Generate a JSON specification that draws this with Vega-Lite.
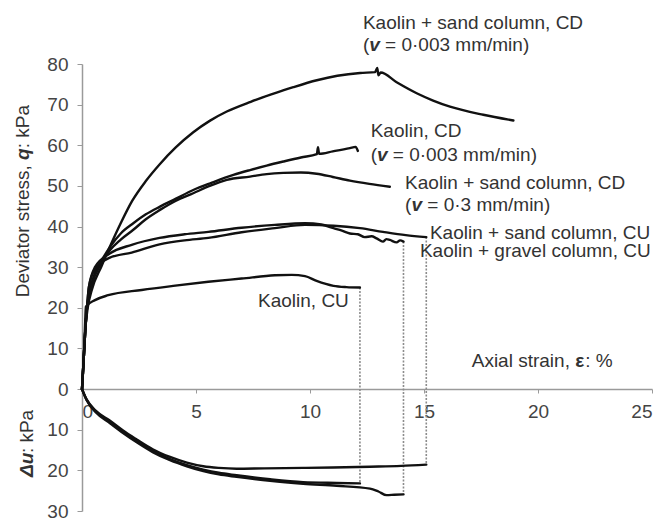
{
  "$schema": "https://vega.github.io/schema/vega-lite/v6.json",
  "width": 570,
  "height": 447,
  "autosize": {"type": "none"},
  "padding": {"left": 82, "top": 64, "right": 13, "bottom": 8},
  "background": "white",
  "config": {
    "view": {"stroke": null},
    "font": "Liberation Sans",
    "text": {"font": "Liberation Sans", "fontSize": 19, "color": "#333333"}
  },
  "datasets": {
    "curves": [
      {"s": "sandCD_slow", "i": 0, "x": 0, "y": 0}, {"s": "sandCD_slow", "i": 1, "x": 0.08, "y": 8}, {"s": "sandCD_slow", "i": 2, "x": 0.15, "y": 15}, {"s": "sandCD_slow", "i": 3, "x": 0.25, "y": 20}, {"s": "sandCD_slow", "i": 4, "x": 0.43, "y": 24.4}, {"s": "sandCD_slow", "i": 5, "x": 0.86, "y": 30.3}, {"s": "sandCD_slow", "i": 6, "x": 1.3, "y": 36}, {"s": "sandCD_slow", "i": 7, "x": 1.74, "y": 41.3}, {"s": "sandCD_slow", "i": 8, "x": 2.2, "y": 46.3}, {"s": "sandCD_slow", "i": 9, "x": 2.8, "y": 51.2}, {"s": "sandCD_slow", "i": 10, "x": 3.42, "y": 55.4}, {"s": "sandCD_slow", "i": 11, "x": 4.1, "y": 59.4}, {"s": "sandCD_slow", "i": 12, "x": 4.88, "y": 63.2}, {"s": "sandCD_slow", "i": 13, "x": 5.6, "y": 66}, {"s": "sandCD_slow", "i": 14, "x": 6.35, "y": 68.3}, {"s": "sandCD_slow", "i": 15, "x": 7.4, "y": 70.7}, {"s": "sandCD_slow", "i": 16, "x": 8.3, "y": 72.5}, {"s": "sandCD_slow", "i": 17, "x": 9.27, "y": 74.3}, {"s": "sandCD_slow", "i": 18, "x": 10.3, "y": 76}, {"s": "sandCD_slow", "i": 19, "x": 11.2, "y": 77.1}, {"s": "sandCD_slow", "i": 20, "x": 12.2, "y": 77.8}, {"s": "sandCD_slow", "i": 21, "x": 12.85, "y": 78}, {"s": "sandCD_slow", "i": 22, "x": 12.95, "y": 79}, {"s": "sandCD_slow", "i": 23, "x": 13.0, "y": 77.2}, {"s": "sandCD_slow", "i": 24, "x": 13.1, "y": 77.9}, {"s": "sandCD_slow", "i": 25, "x": 13.8, "y": 75.5}, {"s": "sandCD_slow", "i": 26, "x": 14.68, "y": 72.8}, {"s": "sandCD_slow", "i": 27, "x": 15.4, "y": 71}, {"s": "sandCD_slow", "i": 28, "x": 16.14, "y": 69.5}, {"s": "sandCD_slow", "i": 29, "x": 17.6, "y": 67.5}, {"s": "sandCD_slow", "i": 30, "x": 18.92, "y": 66.1},

      {"s": "kaolinCD", "i": 0, "x": 0, "y": 0}, {"s": "kaolinCD", "i": 1, "x": 0.08, "y": 8}, {"s": "kaolinCD", "i": 2, "x": 0.15, "y": 15}, {"s": "kaolinCD", "i": 3, "x": 0.22, "y": 20}, {"s": "kaolinCD", "i": 4, "x": 0.5, "y": 27.5}, {"s": "kaolinCD", "i": 5, "x": 0.8, "y": 31}, {"s": "kaolinCD", "i": 6, "x": 1.23, "y": 35}, {"s": "kaolinCD", "i": 7, "x": 1.7, "y": 38.3}, {"s": "kaolinCD", "i": 8, "x": 2.25, "y": 40.8}, {"s": "kaolinCD", "i": 9, "x": 2.8, "y": 43}, {"s": "kaolinCD", "i": 10, "x": 3.42, "y": 44.9}, {"s": "kaolinCD", "i": 11, "x": 4.1, "y": 46.8}, {"s": "kaolinCD", "i": 12, "x": 4.88, "y": 49}, {"s": "kaolinCD", "i": 13, "x": 5.7, "y": 50.8}, {"s": "kaolinCD", "i": 14, "x": 6.64, "y": 52.7}, {"s": "kaolinCD", "i": 15, "x": 7.37, "y": 53.9}, {"s": "kaolinCD", "i": 16, "x": 8.1, "y": 55}, {"s": "kaolinCD", "i": 17, "x": 8.83, "y": 56}, {"s": "kaolinCD", "i": 18, "x": 9.6, "y": 57}, {"s": "kaolinCD", "i": 19, "x": 10.3, "y": 57.8}, {"s": "kaolinCD", "i": 20, "x": 10.35, "y": 59.5}, {"s": "kaolinCD", "i": 21, "x": 10.4, "y": 57.9}, {"s": "kaolinCD", "i": 22, "x": 11.0, "y": 58.5}, {"s": "kaolinCD", "i": 23, "x": 11.75, "y": 59.3}, {"s": "kaolinCD", "i": 24, "x": 12.0, "y": 59.6}, {"s": "kaolinCD", "i": 25, "x": 12.1, "y": 58.6},

      {"s": "sandCD_fast", "i": 0, "x": 0, "y": 0}, {"s": "sandCD_fast", "i": 1, "x": 0.08, "y": 8}, {"s": "sandCD_fast", "i": 2, "x": 0.15, "y": 15}, {"s": "sandCD_fast", "i": 3, "x": 0.22, "y": 20}, {"s": "sandCD_fast", "i": 4, "x": 0.45, "y": 26}, {"s": "sandCD_fast", "i": 5, "x": 0.8, "y": 30.5}, {"s": "sandCD_fast", "i": 6, "x": 1.23, "y": 34.2}, {"s": "sandCD_fast", "i": 7, "x": 1.7, "y": 36.8}, {"s": "sandCD_fast", "i": 8, "x": 2.25, "y": 39.2}, {"s": "sandCD_fast", "i": 9, "x": 2.8, "y": 41.8}, {"s": "sandCD_fast", "i": 10, "x": 3.42, "y": 44.1}, {"s": "sandCD_fast", "i": 11, "x": 4.1, "y": 46.3}, {"s": "sandCD_fast", "i": 12, "x": 4.88, "y": 48.2}, {"s": "sandCD_fast", "i": 13, "x": 5.6, "y": 50}, {"s": "sandCD_fast", "i": 14, "x": 6.35, "y": 51.5}, {"s": "sandCD_fast", "i": 15, "x": 7.37, "y": 52.3}, {"s": "sandCD_fast", "i": 16, "x": 8.1, "y": 52.9}, {"s": "sandCD_fast", "i": 17, "x": 8.83, "y": 53.2}, {"s": "sandCD_fast", "i": 18, "x": 9.6, "y": 53.3}, {"s": "sandCD_fast", "i": 19, "x": 10.29, "y": 53}, {"s": "sandCD_fast", "i": 20, "x": 11.0, "y": 52.2}, {"s": "sandCD_fast", "i": 21, "x": 11.75, "y": 51.3}, {"s": "sandCD_fast", "i": 22, "x": 12.6, "y": 50.5}, {"s": "sandCD_fast", "i": 23, "x": 13.5, "y": 49.8},

      {"s": "sandCU", "i": 0, "x": 0, "y": 0}, {"s": "sandCU", "i": 1, "x": 0.08, "y": 8}, {"s": "sandCU", "i": 2, "x": 0.15, "y": 15}, {"s": "sandCU", "i": 3, "x": 0.22, "y": 20}, {"s": "sandCU", "i": 4, "x": 0.3, "y": 25}, {"s": "sandCU", "i": 5, "x": 0.57, "y": 29.5}, {"s": "sandCU", "i": 6, "x": 1.2, "y": 32.3}, {"s": "sandCU", "i": 7, "x": 2.18, "y": 33.6}, {"s": "sandCU", "i": 8, "x": 3.4, "y": 35.6}, {"s": "sandCU", "i": 9, "x": 4.5, "y": 36.6}, {"s": "sandCU", "i": 10, "x": 5.54, "y": 37.2}, {"s": "sandCU", "i": 11, "x": 7, "y": 38.6}, {"s": "sandCU", "i": 12, "x": 8.46, "y": 39.6}, {"s": "sandCU", "i": 13, "x": 9.78, "y": 40.4}, {"s": "sandCU", "i": 14, "x": 11.03, "y": 40.2}, {"s": "sandCU", "i": 15, "x": 12.19, "y": 39.6}, {"s": "sandCU", "i": 16, "x": 13.2, "y": 38.7}, {"s": "sandCU", "i": 17, "x": 14.2, "y": 37.9}, {"s": "sandCU", "i": 18, "x": 15.1, "y": 37.4},

      {"s": "gravelCU", "i": 0, "x": 0, "y": 0}, {"s": "gravelCU", "i": 1, "x": 0.08, "y": 8}, {"s": "gravelCU", "i": 2, "x": 0.15, "y": 15}, {"s": "gravelCU", "i": 3, "x": 0.22, "y": 20}, {"s": "gravelCU", "i": 4, "x": 0.3, "y": 25}, {"s": "gravelCU", "i": 5, "x": 0.57, "y": 30}, {"s": "gravelCU", "i": 6, "x": 1.2, "y": 33.3}, {"s": "gravelCU", "i": 7, "x": 2.18, "y": 35.5}, {"s": "gravelCU", "i": 8, "x": 3.4, "y": 37.2}, {"s": "gravelCU", "i": 9, "x": 4.5, "y": 38.1}, {"s": "gravelCU", "i": 10, "x": 5.54, "y": 38.7}, {"s": "gravelCU", "i": 11, "x": 7, "y": 39.7}, {"s": "gravelCU", "i": 12, "x": 8.46, "y": 40.4}, {"s": "gravelCU", "i": 13, "x": 9.78, "y": 40.8}, {"s": "gravelCU", "i": 14, "x": 10.5, "y": 40.5}, {"s": "gravelCU", "i": 15, "x": 11.03, "y": 39.6}, {"s": "gravelCU", "i": 16, "x": 11.4, "y": 39}, {"s": "gravelCU", "i": 17, "x": 11.75, "y": 38.3}, {"s": "gravelCU", "i": 18, "x": 12.1, "y": 38.1}, {"s": "gravelCU", "i": 19, "x": 12.4, "y": 37.4}, {"s": "gravelCU", "i": 20, "x": 12.7, "y": 37.6}, {"s": "gravelCU", "i": 21, "x": 12.92, "y": 37.1}, {"s": "gravelCU", "i": 22, "x": 13.2, "y": 36.3}, {"s": "gravelCU", "i": 23, "x": 13.35, "y": 36.9}, {"s": "gravelCU", "i": 24, "x": 13.5, "y": 36.7}, {"s": "gravelCU", "i": 25, "x": 13.8, "y": 36.1}, {"s": "gravelCU", "i": 26, "x": 13.95, "y": 36.6}, {"s": "gravelCU", "i": 27, "x": 14.1, "y": 36.3},

      {"s": "kaolinCU", "i": 0, "x": 0, "y": 0}, {"s": "kaolinCU", "i": 1, "x": 0.08, "y": 8}, {"s": "kaolinCU", "i": 2, "x": 0.13, "y": 15}, {"s": "kaolinCU", "i": 3, "x": 0.17, "y": 20.3}, {"s": "kaolinCU", "i": 4, "x": 0.57, "y": 21.9}, {"s": "kaolinCU", "i": 5, "x": 1.15, "y": 23.1}, {"s": "kaolinCU", "i": 6, "x": 2.62, "y": 24.4}, {"s": "kaolinCU", "i": 7, "x": 4, "y": 25.4}, {"s": "kaolinCU", "i": 8, "x": 5.54, "y": 26.4}, {"s": "kaolinCU", "i": 9, "x": 7, "y": 27.2}, {"s": "kaolinCU", "i": 10, "x": 8.46, "y": 28}, {"s": "kaolinCU", "i": 11, "x": 9.2, "y": 28.1}, {"s": "kaolinCU", "i": 12, "x": 9.78, "y": 27.8}, {"s": "kaolinCU", "i": 13, "x": 10.29, "y": 26.6}, {"s": "kaolinCU", "i": 14, "x": 11.03, "y": 25.4}, {"s": "kaolinCU", "i": 15, "x": 11.6, "y": 25.1}, {"s": "kaolinCU", "i": 16, "x": 12.19, "y": 25.0},

      {"s": "du_sandCU", "i": 0, "x": 0, "y": 0}, {"s": "du_sandCU", "i": 1, "x": 0.2, "y": -2.5}, {"s": "du_sandCU", "i": 2, "x": 0.6, "y": -5.3}, {"s": "du_sandCU", "i": 3, "x": 1.23, "y": -7.8}, {"s": "du_sandCU", "i": 4, "x": 1.8, "y": -10.2}, {"s": "du_sandCU", "i": 5, "x": 2.4, "y": -12.4}, {"s": "du_sandCU", "i": 6, "x": 3.1, "y": -14.8}, {"s": "du_sandCU", "i": 7, "x": 3.86, "y": -16.7}, {"s": "du_sandCU", "i": 8, "x": 4.6, "y": -18.1}, {"s": "du_sandCU", "i": 9, "x": 5.32, "y": -19}, {"s": "du_sandCU", "i": 10, "x": 6.0, "y": -19.4}, {"s": "du_sandCU", "i": 11, "x": 6.78, "y": -19.6}, {"s": "du_sandCU", "i": 12, "x": 8, "y": -19.5}, {"s": "du_sandCU", "i": 13, "x": 9.7, "y": -19.4}, {"s": "du_sandCU", "i": 14, "x": 11, "y": -19.3}, {"s": "du_sandCU", "i": 15, "x": 12.63, "y": -19.1}, {"s": "du_sandCU", "i": 16, "x": 14, "y": -18.9}, {"s": "du_sandCU", "i": 17, "x": 15.1, "y": -18.6},

      {"s": "du_kaolinCU", "i": 0, "x": 0, "y": 0}, {"s": "du_kaolinCU", "i": 1, "x": 0.2, "y": -2.6}, {"s": "du_kaolinCU", "i": 2, "x": 0.6, "y": -5.5}, {"s": "du_kaolinCU", "i": 3, "x": 1.23, "y": -8.1}, {"s": "du_kaolinCU", "i": 4, "x": 1.8, "y": -10.5}, {"s": "du_kaolinCU", "i": 5, "x": 2.4, "y": -12.8}, {"s": "du_kaolinCU", "i": 6, "x": 3.1, "y": -15.2}, {"s": "du_kaolinCU", "i": 7, "x": 3.86, "y": -17.2}, {"s": "du_kaolinCU", "i": 8, "x": 4.6, "y": -18.7}, {"s": "du_kaolinCU", "i": 9, "x": 5.32, "y": -19.8}, {"s": "du_kaolinCU", "i": 10, "x": 6.0, "y": -20.6}, {"s": "du_kaolinCU", "i": 11, "x": 6.78, "y": -21.2}, {"s": "du_kaolinCU", "i": 12, "x": 8.25, "y": -22.2}, {"s": "du_kaolinCU", "i": 13, "x": 9.7, "y": -22.9}, {"s": "du_kaolinCU", "i": 14, "x": 11.17, "y": -23.1}, {"s": "du_kaolinCU", "i": 15, "x": 12.19, "y": -23.2},

      {"s": "du_gravelCU", "i": 0, "x": 0, "y": 0}, {"s": "du_gravelCU", "i": 1, "x": 0.2, "y": -2.7}, {"s": "du_gravelCU", "i": 2, "x": 0.6, "y": -5.7}, {"s": "du_gravelCU", "i": 3, "x": 1.23, "y": -8.4}, {"s": "du_gravelCU", "i": 4, "x": 1.8, "y": -10.8}, {"s": "du_gravelCU", "i": 5, "x": 2.4, "y": -13.1}, {"s": "du_gravelCU", "i": 6, "x": 3.1, "y": -15.5}, {"s": "du_gravelCU", "i": 7, "x": 3.86, "y": -17.5}, {"s": "du_gravelCU", "i": 8, "x": 4.6, "y": -19}, {"s": "du_gravelCU", "i": 9, "x": 5.32, "y": -20.2}, {"s": "du_gravelCU", "i": 10, "x": 6.0, "y": -21}, {"s": "du_gravelCU", "i": 11, "x": 6.78, "y": -21.6}, {"s": "du_gravelCU", "i": 12, "x": 8.25, "y": -22.6}, {"s": "du_gravelCU", "i": 13, "x": 9.7, "y": -23.3}, {"s": "du_gravelCU", "i": 14, "x": 11.17, "y": -23.8}, {"s": "du_gravelCU", "i": 15, "x": 12.63, "y": -24.5}, {"s": "du_gravelCU", "i": 16, "x": 13.0, "y": -25.2}, {"s": "du_gravelCU", "i": 17, "x": 13.36, "y": -26.1}, {"s": "du_gravelCU", "i": 18, "x": 13.7, "y": -26}, {"s": "du_gravelCU", "i": 19, "x": 14.1, "y": -25.9}
    ],
    "drops": [
      {"x": 12.19, "top": 25.0, "bottom": -23.2},
      {"x": 14.1, "top": 36.3, "bottom": -25.9},
      {"x": 15.1, "top": 37.4, "bottom": -18.6}
    ],
    "notes": [
      {"x": 12.32, "y": 90.1, "t": "Kaolin + sand column, CD"},
      {"x": 12.66, "y": 63.4, "t": "Kaolin, CD"},
      {"x": 14.17, "y": 50.8, "t": "Kaolin + sand column, CD"},
      {"x": 15.26, "y": 38.4, "t": "Kaolin + sand column, CU"},
      {"x": 14.82, "y": 34.1, "t": "Kaolin + gravel column, CU"},
      {"x": 7.72, "y": 21.7, "t": "Kaolin, CU"}
    ],
    "rates": [
      {"x": 12.32, "y": 84.7, "rest": "= 0·003 mm/min)"},
      {"x": 12.66, "y": 57.6, "rest": "= 0·003 mm/min)"},
      {"x": 14.17, "y": 45.2, "rest": "= 0·3 mm/min)"}
    ]
  },
  "encoding": {
    "x": {
      "field": "x", "type": "quantitative",
      "scale": {"domain": [0, 25], "nice": false, "zero": false},
      "axis": {
        "title": null, "values": [0, 5, 10, 15, 20, 25], "offset": -122,
        "domainColor": "#9a9a9a", "domainWidth": 1.5, "tickColor": "#9a9a9a", "tickSize": 4,
        "labelColor": "#444444", "labelFontSize": 19, "labelPadding": 9, "labelFont": "Liberation Sans",
        "grid": false
      }
    },
    "y": {
      "field": "y", "type": "quantitative",
      "scale": {"domain": [-30, 80], "nice": false, "zero": false},
      "axis": {
        "title": null, "values": [-30, -20, -10, 0, 10, 20, 30, 40, 50, 60, 70, 80],
        "labelExpr": "abs(datum.value)",
        "domainColor": "#9a9a9a", "domainWidth": 1.5, "tickColor": "#9a9a9a", "tickSize": 5,
        "labelColor": "#444444", "labelFontSize": 19, "labelPadding": 9, "labelFont": "Liberation Sans",
        "labelBound": false, "grid": false
      }
    }
  },
  "layer": [
    {
      "data": {"name": "drops"},
      "mark": {"type": "rule", "stroke": "#8c8c8c", "strokeWidth": 1.6, "strokeDash": [2, 1.5]},
      "encoding": {"y": {"field": "top", "type": "quantitative"}, "y2": {"field": "bottom"}}
    },
    {
      "data": {"name": "curves"},
      "mark": {"type": "line", "stroke": "#111111", "strokeWidth": 2.4, "strokeJoin": "round", "strokeCap": "round", "interpolate": "monotone"},
      "encoding": {"detail": {"field": "s"}, "order": {"field": "i", "type": "quantitative"}}
    },
    {
      "data": {"name": "notes"},
      "mark": {"type": "text", "align": "left", "baseline": "middle"},
      "encoding": {"text": {"field": "t"}}
    },
    {
      "data": {"name": "rates"},
      "mark": {"type": "text", "align": "left", "baseline": "middle", "text": "("}
    },
    {
      "data": {"name": "rates"},
      "mark": {"type": "text", "align": "left", "baseline": "middle", "text": "v", "dx": 6.3, "fontWeight": "bold", "fontStyle": "italic"}
    },
    {
      "data": {"name": "rates"},
      "mark": {"type": "text", "align": "left", "baseline": "middle", "dx": 22.2},
      "encoding": {"text": {"field": "rest"}}
    },
    {
      "data": {"values": [{"x": 21.4, "y": 6.9}]},
      "layer": [
        {"mark": {"type": "text", "align": "right", "baseline": "middle", "text": "Axial strain,"}},
        {"mark": {"type": "text", "align": "left", "baseline": "middle", "text": "ε", "dx": 5.3, "fontWeight": "bold"}},
        {"mark": {"type": "text", "align": "left", "baseline": "middle", "text": ": %", "dx": 15.3}}
      ]
    },
    {
      "data": {"values": [{"x": -2.59, "y": 55.1}]},
      "layer": [
        {"mark": {"type": "text", "align": "right", "baseline": "middle", "angle": 270, "text": "Deviator stress,"}},
        {"mark": {"type": "text", "align": "left", "baseline": "middle", "angle": 270, "text": "q", "dx": 5.3, "fontWeight": "bold", "fontStyle": "italic"}},
        {"mark": {"type": "text", "align": "left", "baseline": "middle", "angle": 270, "text": ": kPa", "dx": 16.9}}
      ]
    },
    {
      "data": {"values": [{"x": -2.43, "y": -21.66}]},
      "layer": [
        {"mark": {"type": "text", "align": "left", "baseline": "middle", "angle": 270, "text": "Δu", "fontWeight": "bold", "fontStyle": "italic"}},
        {"mark": {"type": "text", "align": "left", "baseline": "middle", "angle": 270, "text": ": kPa", "dx": 24}}
      ]
    }
  ]
}
